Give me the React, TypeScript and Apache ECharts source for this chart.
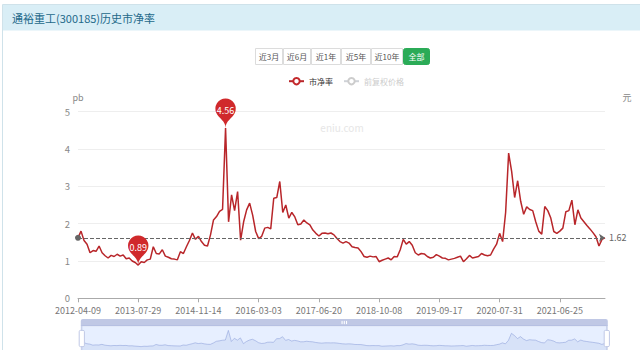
import React, { useEffect, useRef } from 'react';
import * as echarts from 'echarts';

const titleText = '通裕重工(300185)历史市净率';
const rangeButtons = ['近3月', '近6月', '近1年', '近5年', '近10年', '全部'];
const seriesNames = ['市净率', '前复权价格'];
const labelDates = [
  '2012-04-09', '2013-07-29', '2014-11-14', '2016-03-03', '2017-06-20',
  '2018-10-08', '2019-09-17', '2020-07-31', '2021-06-25',
];
const pointsPerLabel = 20;
const pbValues = [
  1.62, 1.80, 1.55, 1.45, 1.22, 1.28, 1.26, 1.40, 1.22, 1.14,
  1.08, 1.15, 1.12, 1.18, 1.13, 1.16, 1.06, 1.08, 1.00, 0.96,
  0.89, 0.98, 0.96, 1.03, 1.05, 1.38, 1.20, 1.19, 1.30, 1.13,
  1.10, 1.06, 1.05, 1.03, 1.25, 1.20, 1.38, 1.55, 1.75, 1.58,
  1.66, 1.52, 1.42, 1.40, 1.70, 2.10, 2.19, 2.33, 2.38, 4.56,
  2.05, 2.77, 2.35, 2.86, 1.56, 2.05, 2.37, 2.55, 2.23, 1.79,
  1.60, 1.66, 1.88, 1.90, 1.86, 2.68, 2.70, 3.13, 2.30, 2.50,
  2.15, 2.30, 2.18, 1.97, 1.99, 2.10, 2.02, 1.97, 1.83, 1.74,
  1.67, 1.74, 1.75, 1.73, 1.75, 1.70, 1.60, 1.52, 1.48, 1.52,
  1.48, 1.38, 1.36, 1.35, 1.25, 1.12, 1.10, 1.13, 1.11, 1.12,
  0.98, 1.02, 1.05, 1.08, 1.03, 1.12, 1.11, 1.30, 1.58, 1.45,
  1.52, 1.42, 1.22, 1.16, 1.20, 1.19, 1.12, 1.08, 1.10, 1.17,
  1.13, 1.08, 1.07, 1.03, 1.05, 1.07, 1.10, 1.13, 0.98, 1.06,
  1.15, 1.08, 1.10, 1.12, 1.20, 1.16, 1.14, 1.16, 1.32, 1.45,
  1.74, 1.52, 2.30, 3.89, 3.40, 2.70, 3.15, 2.60, 2.25, 2.45,
  2.38, 2.35, 2.05, 1.80, 1.72, 2.46, 2.35, 2.15, 1.79, 1.74,
  1.80, 1.88, 2.32, 2.35, 2.63, 1.97, 2.37, 2.15, 2.05, 1.95,
  1.86, 1.76, 1.65, 1.40, 1.58, 1.62,
];
const priceValues: number[] = [];
const currentPb = 1.62;
const watermark = 'eniu.com';

function fmt(t: number) {
  const d = new Date(t);
  const m = String(d.getUTCMonth() + 1).padStart(2, '0');
  const day = String(d.getUTCDate()).padStart(2, '0');
  return `${d.getUTCFullYear()}-${m}-${day}`;
}

function buildDates(): string[] {
  const anchors = labelDates.map((s) => Date.parse(s + 'T00:00:00Z'));
  const out: string[] = [];
  const last = anchors.length - 1;
  const lastStep = anchors[last] - anchors[last - 1];
  for (let i = 0; i < pbValues.length; i++) {
    const seg = Math.floor(i / pointsPerLabel);
    const f = (i % pointsPerLabel) / pointsPerLabel;
    let a: number, b: number;
    if (seg < last) {
      a = anchors[seg]; b = anchors[seg + 1];
    } else {
      a = anchors[last] + (seg - last) * lastStep;
      b = a + lastStep;
    }
    const day = 86400000;
    out.push(fmt(Math.round((a + (b - a) * f) / day) * day));
  }
  return out;
}

const FONT = "'Noto Sans CJK SC', 'Noto Sans', sans-serif";

export default function App() {
  const ref = useRef<HTMLDivElement>(null);
  useEffect(() => {
    document.body.style.margin = '0';
    if (!ref.current) return;
    const chart = echarts.init(ref.current, undefined, { renderer: 'svg' });
    const dates = buildDates();

    const btnWidths = [28, 28, 30, 30, 32, 27];
    const btnGraphics: any[] = [];
    let bx = 255;
    rangeButtons.forEach((t, i) => {
      const active = i === rangeButtons.length - 1;
      btnGraphics.push({
        type: 'rect',
        shape: { x: bx + 0.5, y: 48.5, width: btnWidths[i] - 1, height: 16, r: active ? 2 : 0 },
        style: { fill: active ? '#2bab57' : '#fff', stroke: active ? '#2bab57' : '#dcdcdc', lineWidth: 1 },
        z: 10,
      });
      btnGraphics.push({
        type: 'text',
        x: bx + btnWidths[i] / 2,
        y: 56.5,
        style: {
          text: t, fill: active ? '#fff' : '#555', font: `8px ${FONT}`,
          align: 'center', verticalAlign: 'middle',
        },
        z: 11,
      });
      bx += btnWidths[i];
    });

    chart.setOption({
      animation: false,
      textStyle: { fontFamily: FONT },
      graphic: [
        {
          type: 'rect', shape: { x: 2.5, y: 4.5, width: 700, height: 400 },
          style: { fill: '#fff', stroke: '#cfe2ea', lineWidth: 1 }, z: 0, silent: true,
        },
        {
          type: 'rect', shape: { x: 3, y: 5, width: 700, height: 25.5 },
          style: { fill: '#d9eef6' }, z: 1, silent: true,
        },
        {
          type: 'text', x: 12, y: 18,
          style: { text: titleText, fill: '#23698a', font: `11px ${FONT}`, verticalAlign: 'middle' },
          z: 2,
        },
        {
          type: 'text', x: 342, y: 127,
          style: { text: watermark, fill: '#e6e6e6', font: `10px ${FONT}`, align: 'center', verticalAlign: 'middle' },
          z: 2,
        },
        ...btnGraphics,
      ],
      legend: {
        left: 283, top: 72,
        itemWidth: 15, itemHeight: 8, itemGap: 10,
        textStyle: { fontSize: 8, color: '#333' },
        data: seriesNames,
        selected: { [seriesNames[1]]: false },
        inactiveColor: '#ccc',
      },
      grid: { left: 78, right: 35, top: 111.7, bottom: 51.7 },
      xAxis: {
        type: 'category',
        data: dates,
        boundaryGap: false,
        axisLine: { lineStyle: { color: '#aaa' } },
        axisTick: { interval: pointsPerLabel - 1, length: 4, lineStyle: { color: '#aaa' } },
        axisLabel: { interval: pointsPerLabel - 1, color: '#777', fontSize: 9, lineHeight: 10, margin: 7 },
        splitLine: { show: false },
      },
      yAxis: [
        {
          type: 'value', min: 0, max: 5, interval: 1,
          name: 'pb', nameGap: 10,
          nameTextStyle: { color: '#888', fontSize: 9 },
          axisLine: { show: false }, axisTick: { show: false },
          axisLabel: { color: '#888', fontSize: 9.5, lineHeight: 9, margin: 8 },
          splitLine: { lineStyle: { color: '#eee' } },
        },
        {
          type: 'value', min: 0, max: 5, position: 'right', offset: 22,
          name: '元', nameGap: 10,
          nameTextStyle: { color: '#888', fontSize: 9 },
          axisLine: { show: false }, axisTick: { show: false },
          axisLabel: { show: false }, splitLine: { show: false },
        },
      ],
      dataZoom: [
        { type: 'slider', xAxisIndex: 0, start: 0, end: 100, left: 78, right: 35, top: 319, height: 26 },
      ],
      series: [
        {
          name: seriesNames[0], type: 'line', data: pbValues,
          symbol: 'emptyCircle', showSymbol: false, symbolSize: 4,
          itemStyle: { color: '#c3282b' },
          lineStyle: { color: '#b8262a', width: 1.5 },
          markPoint: {
            symbol: 'pin', symbolSize: 34,
            label: { color: '#fff', fontSize: 9 },
            itemStyle: { color: '#d0292b' },
            data: [{ type: 'max', name: 'max' }, { type: 'min', name: 'min' }],
          },
          markLine: {
            symbol: ['circle', 'arrow'], symbolSize: 6,
            lineStyle: { color: '#666', type: 'dashed', width: 1 },
            label: { color: '#666', fontSize: 9, position: 'end', distance: 4 },
            data: [{ yAxis: currentPb }],
          },
        },
        {
          name: seriesNames[1], type: 'line', yAxisIndex: 1, data: priceValues,
          symbol: 'emptyCircle', showSymbol: false,
          itemStyle: { color: '#999' }, lineStyle: { color: '#999' },
        },
      ],
    });
    return () => chart.dispose();
  }, []);
  return <div ref={ref} style={{ width: 640, height: 350 }} />;
}
